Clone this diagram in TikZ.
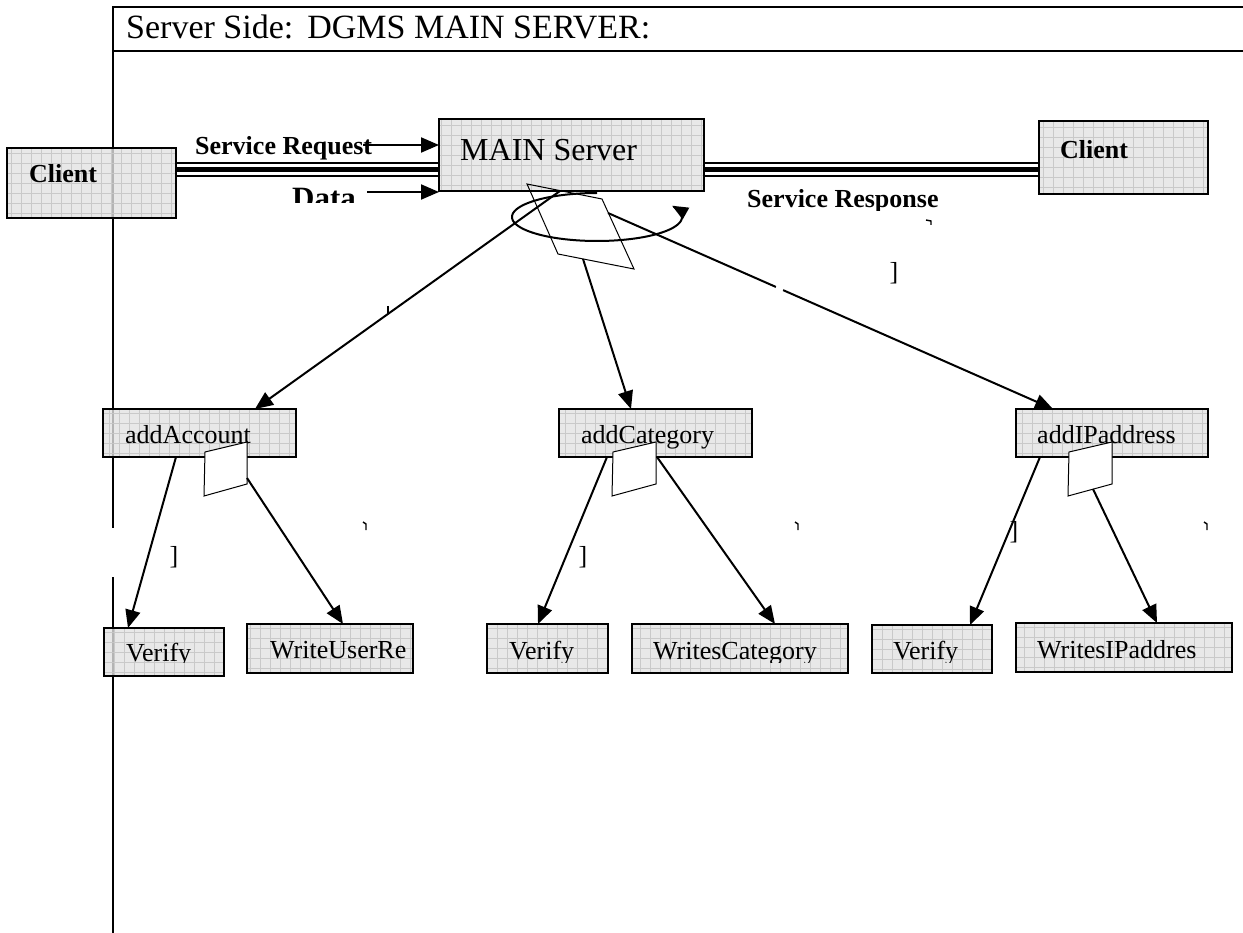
\documentclass[tikz,border=0pt]{standalone}
\usepackage{fontspec}
\setmainfont{Liberation Serif}
\usetikzlibrary{arrows.meta,calc}
\definecolor{boxfill}{HTML}{E2E2E2}
\definecolor{gridc}{HTML}{C6C6C6}
\tikzset{
  gbox/.style={draw=black, line width=2.2pt, fill=boxfill, fill opacity=0.8,
    anchor=north west, inner sep=0pt, outer sep=0pt,
    path picture={\draw[gridc, line width=0.6pt, opacity=0.9]
      (path picture bounding box.south west) grid[step=10pt]
      (path picture bounding box.north east);}},
  lbl/.style={anchor=base west, inner sep=0pt, font=\fontsize{26}{30}\selectfont},
  blbl/.style={anchor=base west, inner sep=0pt, font=\fontsize{26}{30}\selectfont\bfseries},
  conn/.style={line width=2pt, -{Triangle[length=18pt,width=15pt]}},
  flag/.style={draw=black, line width=1pt, fill=white, line join=miter},
  framel/.style={line width=2.2pt},
  stray/.style={line width=1.4pt},
  bracket/.style={inner sep=0pt, font=\fontsize{26}{30}\selectfont}
}
\begin{document}
\begin{tikzpicture}[x=1pt, y=-1pt]
\useasboundingbox (0,0) rectangle (1243,933);

% page frame and title rule
\draw[framel] (1243,7) -- (113,7) -- (113,528);
\draw[framel] (113,577) -- (113,933);
\draw[framel] (113,51) -- (1243,51);
\node[anchor=base west, inner sep=0pt, font=\fontsize{34}{38}\selectfont] (title)
  at (126,39) {Server Side:\hspace{14pt}DGMS MAIN SERVER:};

% top row: clients and main server
\node[gbox, minimum width=169pt, minimum height=70pt] (clientL) at (7,148) {};
\node[gbox, minimum width=265pt, minimum height=72pt] (mainsrv) at (439,119) {};
\node[gbox, minimum width=169pt, minimum height=73pt] (clientR) at (1039,121) {};
\node[blbl] (tclientL) at (29,183) {Client};
\node[blbl] (tclientR) at (1060,159) {Client};
\node[anchor=base west, inner sep=0pt, font=\fontsize{32}{36}\selectfont] (tmain) at (460,161) {MAIN Server};

% triple channel lines
\foreach \yy/\ww in {163/2.3pt, 169.2/5pt, 176.2/2.3pt}{
  \draw[line width=\ww] (clientL.east |- 0,\yy) -- (mainsrv.west |- 0,\yy);
  \draw[line width=\ww] (mainsrv.east |- 0,\yy) -- (clientR.west |- 0,\yy);
}

% request labels and arrows
\node[blbl] (treq) at (195,155) {Service Request};
\coordinate (sreq) at (363,145);
\draw[conn] (sreq) -- (mainsrv.west |- 0,145);
\begin{scope}
  \clip (250,170) rectangle (430,203);
  \node[anchor=base west, inner sep=0pt, font=\fontsize{31}{36}\selectfont\bfseries] (tdata) at (292,209) {Data};
\end{scope}
\coordinate (sdata) at (367,192);
\draw[conn] (sdata) -- (mainsrv.west |- 0,192);
\begin{scope}
  \clip (700,180) rectangle (1000,211);
  \node[blbl] (tresp) at (747,208) {Service Response};
\end{scope}

% second row boxes
\node[gbox, minimum width=193pt, minimum height=48pt] (acct) at (103,409) {};
\node[gbox, minimum width=193pt, minimum height=48pt] (cat) at (559,409) {};
\node[gbox, minimum width=192pt, minimum height=48pt] (ip) at (1016,409) {};
\node[lbl] (tacct) at (125,443) {addAccount};
\node[lbl] (tcat) at (581,443) {addCategory};
\node[lbl] (tip) at (1037,443) {addIPaddress};

% third row boxes
\node[gbox, minimum width=120pt, minimum height=48pt] (ver1) at (104,628) {};
\node[gbox, minimum width=166pt, minimum height=49pt] (wur) at (247,624) {};
\node[gbox, minimum width=121pt, minimum height=49pt] (ver2) at (487,624) {};
\node[gbox, minimum width=216pt, minimum height=49pt] (wcat) at (632,624) {};
\node[gbox, minimum width=120pt, minimum height=48pt] (ver3) at (872,625) {};
\node[gbox, minimum width=216pt, minimum height=49pt] (wip) at (1016,623) {};
\begin{scope}
  \clip (0,600) rectangle (1243,662);
  \node[lbl] (tver1) at (126,661) {Verify};
  \node[lbl] (twur) at (270,658) {WriteUserRe};
  \node[lbl] (tver2) at (509,659) {Verify};
  \node[lbl] (twcat) at (653,659) {WritesCategory};
  \node[lbl] (tver3) at (893,659) {Verify};
  \node[lbl] (twip) at (1037,658) {WritesIPaddres};
\end{scope}

% flags on the second row boxes
\coordinate (fa1) at (205,452); \coordinate (fa2) at (247,442);
\coordinate (fa3) at (247,484); \coordinate (fa4) at (204,496);
\draw[flag] (fa1) -- (fa2) -- (fa3) -- (fa4) -- cycle;
\coordinate (fb1) at (613,452); \coordinate (fb2) at (656,442);
\coordinate (fb3) at (656,484); \coordinate (fb4) at (612,496);
\draw[flag] (fb1) -- (fb2) -- (fb3) -- (fb4) -- cycle;
\coordinate (fc1) at (1069,452); \coordinate (fc2) at (1112,442);
\coordinate (fc3) at (1112,484); \coordinate (fc4) at (1068,496);
\draw[flag] (fc1) -- (fc2) -- (fc3) -- (fc4) -- cycle;

% flag and rotation loop below the main server
\coordinate (fm1) at (527,184); \coordinate (fm2) at (602,199);
\coordinate (fm3) at (634,269); \coordinate (fm4) at (558,254);
\draw[line width=1pt] (fm1) -- (fm2) -- (fm3) -- (fm4) -- cycle;
\draw[line width=2pt, -{Triangle[length=16pt,width=13pt]}]
  plot[domain=-90:-388, samples=120] ({597+85*cos(\x)},{217+24*sin(\x)});

% dispatch arrows from the main server
\coordinate (fmoutA) at (583,259);
\coordinate (fmoutB) at (608,213);
\draw[conn] (mainsrv.south -| 560,0) -- (acct.north -| 255,0);
\draw[conn] (fmoutA) -- (cat.north -| 631,0);
\draw[conn] (fmoutB) -- (ip.north -| 1053,0);
\draw[white, line width=4pt] (776,287.0) -- (783,290.1);

% arrows to the third row
\coordinate (faout) at (247,478);
\coordinate (fcout) at (1093,489);
\draw[conn] (acct.south -| 176,0) -- (ver1.north -| 128,0);
\draw[conn] (faout) -- (wur.north -| 343,0);
\draw[conn] (cat.south -| 607,0) -- (ver2.north -| 538,0);
\draw[conn] (cat.south -| 657,0) -- (wcat.north -| 775,0);
\draw[conn] (ip.south -| 1040,0) -- (ver3.north -| 970,0);
\draw[conn] (fcout) -- (wip.north -| 1157,0);

% stray glyphs
\node[bracket] (br1) at (894,273) {]};
\node[bracket] (br2) at (174,557) {]};
\node[bracket] (br3) at (583,557) {]};
\node[bracket] (br4) at (1014,532) {]};
\draw[stray] (926,220) -- (931,221) -- (931,225);
\draw[stray] (388,306) -- (388,313);
\draw[stray] (363,522) -- (366,524) -- (366,530);
\draw[stray] (795,522) -- (798,524) -- (798,530);
\draw[stray] (1204,522) -- (1207,524) -- (1207,530);
\end{tikzpicture}
\end{document}
